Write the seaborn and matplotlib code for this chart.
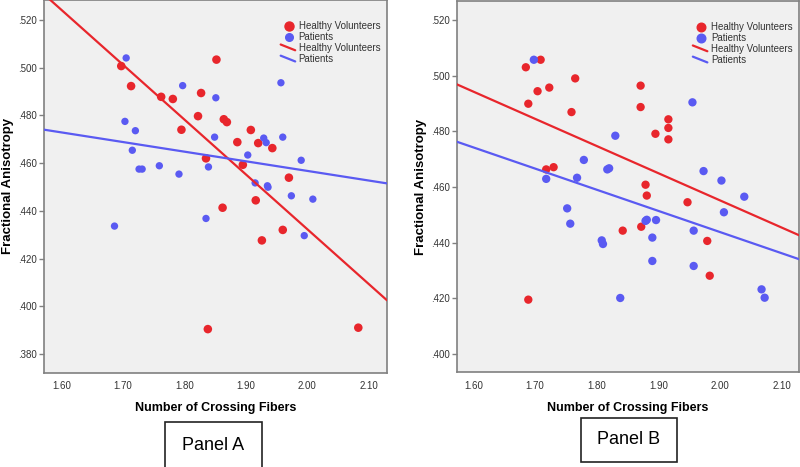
import numpy as np
import pandas as pd
import matplotlib
matplotlib.use("Agg")
import matplotlib.pyplot as plt
import seaborn as sns
from matplotlib.lines import Line2D
from matplotlib.legend_handler import HandlerLine2D
from matplotlib.patches import Rectangle

# ---------------- data ----------------
groups = ["Healthy Volunteers", "Patients"]

# Panel A
hv_a_x = [1.697, 1.713, 1.762, 1.781, 1.795, 1.827, 1.822, 1.852, 1.835, 1.864, 1.869, 1.886,
          1.908, 1.920, 1.943, 1.895, 1.970, 1.916, 1.862, 1.960, 1.926, 1.838, 2.083]
hv_a_y = [0.5007, 0.4923, 0.4878, 0.4869, 0.4740, 0.4894, 0.4797, 0.5034, 0.4620, 0.4784, 0.4772, 0.4688,
          0.4739, 0.4684, 0.4663, 0.4593, 0.4539, 0.4444, 0.4413, 0.4320, 0.4276, 0.3904, 0.3910]
pt_a_x = [1.705, 1.703, 1.720, 1.715, 1.726, 1.731, 1.759, 1.791, 1.797, 1.839, 1.851, 1.849, 1.903,
          1.929, 1.933, 1.915, 1.936, 1.935, 1.957, 1.960, 1.990, 1.974, 2.009, 1.835, 1.686, 1.995]
pt_a_y = [0.5041, 0.4775, 0.4736, 0.4654, 0.4575, 0.4575, 0.4589, 0.4554, 0.4925, 0.4584, 0.4874, 0.4709, 0.4634,
          0.4705, 0.4686, 0.4517, 0.4499, 0.4505, 0.4937, 0.4709, 0.4612, 0.4463, 0.4449, 0.4368, 0.4336, 0.4296]

# Panel B
hv_b_x = [1.685, 1.709, 1.689, 1.704, 1.723, 1.765, 1.759, 1.718, 1.730, 1.871, 1.871, 1.895,
          1.916, 1.916, 1.916, 1.879, 1.881, 1.947, 1.842, 1.872, 1.979, 1.983, 1.689]
hv_b_y = [0.5030, 0.5057, 0.4899, 0.4944, 0.4957, 0.4990, 0.4869, 0.4663, 0.4671, 0.4964, 0.4887, 0.4791,
          0.4843, 0.4812, 0.4771, 0.4608, 0.4569, 0.4545, 0.4443, 0.4457, 0.4406, 0.4281, 0.4195]
pt_b_x = [1.698, 1.718, 1.768, 1.779, 1.830, 1.817, 1.820, 1.955, 1.973, 2.002, 2.039, 1.752, 1.757,
          1.879, 1.881, 1.896, 1.808, 1.810, 1.890, 1.957, 2.006, 1.890, 1.957, 1.838, 2.067, 2.072]
pt_b_y = [0.5057, 0.4629, 0.4633, 0.4697, 0.4784, 0.4663, 0.4667, 0.4904, 0.4657, 0.4623, 0.4565, 0.4523, 0.4468,
          0.4478, 0.4482, 0.4481, 0.4408, 0.4395, 0.4418, 0.4443, 0.4509, 0.4334, 0.4316, 0.4201, 0.4232, 0.4202]

x_ticks = [1.60, 1.70, 1.80, 1.90, 2.00, 2.10]
x_tick_labels = ["1.60", "1.70", "1.80", "1.90", "2.00", "2.10"]
y_ticks_a = [0.380, 0.400, 0.420, 0.440, 0.460, 0.480, 0.500, 0.520]
y_tick_labels_a = [".380", ".400", ".420", ".440", ".460", ".480", ".500", ".520"]
y_ticks_b = [0.400, 0.420, 0.440, 0.460, 0.480, 0.500, 0.520]
y_tick_labels_b = [".400", ".420", ".440", ".460", ".480", ".500", ".520"]

x_label = "Number of Crossing Fibers"
y_label = "Fractional Anisotropy"
panel_names = ["Panel A", "Panel B"]

# ---------------- style ----------------
sns.set_theme(style="white")
plt.rcParams["font.family"] = ["Liberation Sans Narrow", "Liberation Sans", "DejaVu Sans"]

RED = "#E8262C"
BLUE = "#5A5AF2"
palette = {groups[0]: RED, groups[1]: BLUE}
BG = "#F0F0F0"
SPINE = "#808080"
TXT = "#333333"


def make_df(hx, hy, px, py):
    return pd.DataFrame({
        "x": list(hx) + list(px),
        "y": list(hy) + list(py),
        "group": [groups[0]] * len(hx) + [groups[1]] * len(px),
    })


class DiagHandler(HandlerLine2D):
    def create_artists(self, legend, orig_handle, xdescent, ydescent,
                       width, height, fontsize, trans):
        x0 = -xdescent - 0.15 * width
        x1 = -xdescent + width * 1.0
        y0 = -ydescent + height * 1.0
        y1 = -ydescent + height * 0.15
        ln = Line2D([x0, x1], [y0, y1], color=orig_handle.get_color(),
                    lw=orig_handle.get_linewidth(), transform=trans)
        return [ln]


fig = plt.figure(figsize=(8.0, 4.67), dpi=100)
fig.patch.set_facecolor("white")

panels = [
    dict(df=make_df(hv_a_x, hv_a_y, pt_a_x, pt_a_y), rect=[0.055, 0.2018, 0.4288, 0.7982],
         xlim=(1.5712, 2.1298), ylim=(0.3721, 0.5284), yt=y_ticks_a, ytl=y_tick_labels_a,
         sizes={groups[0]: 38, groups[1]: 28}, ms=(6.5, 5.5)),
    dict(df=make_df(hv_b_x, hv_b_y, pt_b_x, pt_b_y), rect=[0.5709, 0.2028, 0.4281, 0.795],
         xlim=(1.573, 2.128), ylim=(0.3934, 0.5268), yt=y_ticks_b, ytl=y_tick_labels_b,
         sizes={groups[0]: 36, groups[1]: 36}, ms=(6.2, 6.2)),
]

for i, p in enumerate(panels):
    ax = fig.add_axes(p["rect"])
    ax.set_facecolor(BG)
    ax.set_xlim(*p["xlim"])
    ax.set_ylim(*p["ylim"])
    df = p["df"]
    for g in groups:
        sub = df[df["group"] == g]
        sns.scatterplot(data=sub, x="x", y="y", color=palette[g], s=p["sizes"][g],
                        edgecolor="none", linewidth=0, ax=ax, legend=False, zorder=3)
    for g in groups:
        sub = df[df["group"] == g]
        sns.regplot(data=sub, x="x", y="y", scatter=False, ci=None, truncate=False,
                    color=palette[g], line_kws=dict(lw=1.6, zorder=4), ax=ax)
    ax.set_xlim(*p["xlim"])
    ax.set_ylim(*p["ylim"])
    ax.set_xticks(x_ticks)
    ax.set_xticklabels(x_tick_labels)
    ax.set_yticks(p["yt"])
    ax.set_yticklabels(p["ytl"])
    ax.tick_params(axis="x", length=0, pad=6, labelsize=7, colors=TXT)
    ax.tick_params(axis="y", length=3.5, width=1, direction="out", pad=1.5, labelsize=7,
                   colors=TXT, left=True)
    ax.tick_params(axis="y", color=SPINE)
    for sp in ax.spines.values():
        sp.set_visible(True)
        sp.set_color(SPINE)
        sp.set_linewidth(1.2)
    ax.set_xlabel(x_label, fontsize=9, fontweight="bold", color="black", labelpad=8)
    ax.set_ylabel(y_label, fontsize=9.5, fontweight="bold", color="black", labelpad=3)

    handles = [
        Line2D([], [], marker="o", linestyle="none", color=RED, markersize=p["ms"][0]),
        Line2D([], [], marker="o", linestyle="none", color=BLUE, markersize=p["ms"][1]),
        Line2D([], [], color=RED, lw=1.6),
        Line2D([], [], color=BLUE, lw=1.6),
    ]
    labels = [groups[0], groups[1], groups[0], groups[1]]
    leg = ax.legend(handles, labels, loc="upper right", bbox_to_anchor=(1.0, 0.962),
                    frameon=False, fontsize=7, handlelength=1.3, handletextpad=0.35,
                    labelspacing=0.12, borderaxespad=0.3,
                    handler_map={handles[2]: DiagHandler(), handles[3]: DiagHandler()})
    for t in leg.get_texts():
        t.set_color(TXT)

# panel name boxes
boxes = [(165, 422, 97, 46), (581, 418, 96, 44)]
for (bx, by, bw, bh), name in zip(boxes, panel_names):
    W, H = 800.0, 467.0
    rect = Rectangle((bx / W, 1 - (by + bh) / H), bw / W, bh / H, transform=fig.transFigure,
                     fill=False, edgecolor="#222222", linewidth=1.2)
    fig.add_artist(rect)
    fig.text((bx + bw / 2) / W, 1 - (by + bh / 2) / H, name, ha="center", va="center",
             fontsize=13, color="black")

fig.savefig("out.png", dpi=100)
